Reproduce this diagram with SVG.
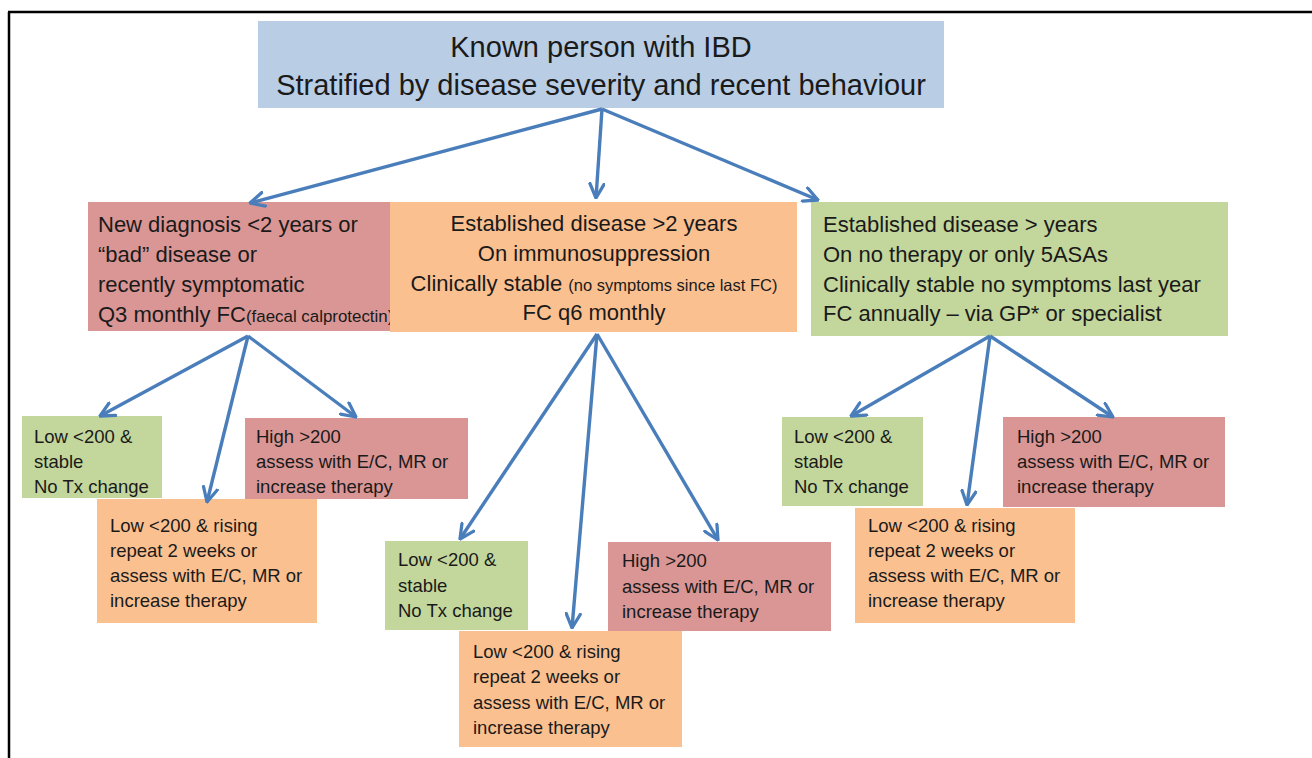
<svg xmlns="http://www.w3.org/2000/svg" width="1312" height="758" viewBox="0 0 1312 758">
<style>
.blue{fill:#b9cde5}
.red{fill:#d99694}
.orange{fill:#fac090}
.green{fill:#c3d69b}
text{font-family:"Liberation Sans",Arial,sans-serif;fill:#1a1a1a}
.t0{font-size:29px}
.t1{font-size:22px}
.s1{font-size:16.5px}
.t2{font-size:18.5px}
.conn line{stroke:#4a7ebb;stroke-width:3.4;marker-end:url(#ah)}
</style>
<defs>
<marker id="ah" viewBox="0 0 12 12" refX="11" refY="6" markerWidth="17" markerHeight="17" markerUnits="userSpaceOnUse" orient="auto">
<path d="M1,1 L11,6 L1,11" fill="none" stroke="#4a7ebb" stroke-width="2.3" stroke-linecap="round" stroke-linejoin="round"/>
</marker>
</defs>
<rect width="1312" height="758" fill="#fff"/>
<g id="frame" stroke="#000" stroke-width="2.5" fill="none">
<line x1="8" y1="12" x2="1312" y2="12"/>
<line x1="9" y1="12" x2="9" y2="758"/>
</g>

<g id="top">
<rect class="blue" x="258" y="21" width="686" height="87"/>
<text class="t0" x="601" y="57" text-anchor="middle">Known person with IBD</text>
<text class="t0" x="601" y="95" text-anchor="middle">Stratified by disease severity and recent behaviour</text>
</g>

<g id="new-diagnosis">
<rect class="red" x="88" y="202" width="302" height="129"/>
<text class="t1" x="98" y="232">New diagnosis &lt;2 years or</text>
<text class="t1" x="98" y="262">“bad” disease or</text>
<text class="t1" x="98" y="292">recently symptomatic</text>
<text class="t1" x="98" y="322">Q3 monthly FC<tspan font-size="16.9px">(faecal calprotectin)</tspan></text>
</g>

<g id="immunosuppression">
<rect class="orange" x="390" y="202" width="407" height="130"/>
<text class="t1" x="594" y="231" text-anchor="middle">Established disease &gt;2 years</text>
<text class="t1" x="594" y="261" text-anchor="middle">On immunosuppression</text>
<text class="t1" x="594" y="291" text-anchor="middle">Clinically stable <tspan class="s1">(no symptoms since last FC)</tspan></text>
<text class="t1" x="594" y="320" text-anchor="middle">FC q6 monthly</text>
</g>

<g id="no-therapy">
<rect class="green" x="811" y="202" width="417" height="134"/>
<text class="t1" x="823" y="232">Established disease &gt; years</text>
<text class="t1" x="823" y="262">On no therapy or only 5ASAs</text>
<text class="t1" x="823" y="292">Clinically stable no symptoms last year</text>
<text class="t1" x="823" y="321">FC annually – via GP* or specialist</text>
</g>

<g id="l-low-stable">
<rect class="green" x="22" y="416" width="140" height="82"/>
<text class="t2" x="34" y="443">Low &lt;200 &amp;</text>
<text class="t2" x="34" y="468">stable</text>
<text class="t2" x="34" y="493">No Tx change</text>
</g>
<g id="l-high">
<rect class="red" x="245" y="418" width="223" height="81"/>
<text class="t2" x="256" y="443">High &gt;200</text>
<text class="t2" x="256" y="468">assess with E/C, MR or</text>
<text class="t2" x="256" y="493">increase therapy</text>
</g>
<g id="l-low-rising">
<rect class="orange" x="97" y="499" width="220" height="124"/>
<text class="t2" x="110" y="532">Low &lt;200 &amp; rising</text>
<text class="t2" x="110" y="557">repeat 2 weeks or</text>
<text class="t2" x="110" y="582">assess with E/C, MR or</text>
<text class="t2" x="110" y="607">increase therapy</text>
</g>

<g id="m-low-stable">
<rect class="green" x="385" y="541" width="143" height="89"/>
<text class="t2" x="398" y="566">Low &lt;200 &amp;</text>
<text class="t2" x="398" y="592">stable</text>
<text class="t2" x="398" y="617">No Tx change</text>
</g>
<g id="m-high">
<rect class="red" x="608" y="542" width="223" height="89"/>
<text class="t2" x="622" y="567">High &gt;200</text>
<text class="t2" x="622" y="593">assess with E/C, MR or</text>
<text class="t2" x="622" y="618">increase therapy</text>
</g>
<g id="m-low-rising">
<rect class="orange" x="459" y="631" width="223" height="116"/>
<text class="t2" x="473" y="658">Low &lt;200 &amp; rising</text>
<text class="t2" x="473" y="683">repeat 2 weeks or</text>
<text class="t2" x="473" y="709">assess with E/C, MR or</text>
<text class="t2" x="473" y="734">increase therapy</text>
</g>

<g id="r-low-stable">
<rect class="green" x="782" y="417" width="141" height="89"/>
<text class="t2" x="794" y="443">Low &lt;200 &amp;</text>
<text class="t2" x="794" y="468">stable</text>
<text class="t2" x="794" y="493">No Tx change</text>
</g>
<g id="r-high">
<rect class="red" x="1003" y="417" width="222" height="90"/>
<text class="t2" x="1017" y="443">High &gt;200</text>
<text class="t2" x="1017" y="468">assess with E/C, MR or</text>
<text class="t2" x="1017" y="493">increase therapy</text>
</g>
<g id="r-low-rising">
<rect class="orange" x="855" y="508" width="220" height="115"/>
<text class="t2" x="868" y="532">Low &lt;200 &amp; rising</text>
<text class="t2" x="868" y="557">repeat 2 weeks or</text>
<text class="t2" x="868" y="582">assess with E/C, MR or</text>
<text class="t2" x="868" y="607">increase therapy</text>
</g>

<g id="connectors" class="conn">
<line x1="602" y1="109" x2="250" y2="203"/>
<line x1="602" y1="109" x2="596" y2="198"/>
<line x1="602" y1="109" x2="818" y2="200"/>
<line x1="248" y1="336" x2="100" y2="416"/>
<line x1="248" y1="336" x2="207" y2="502"/>
<line x1="248" y1="336" x2="356" y2="417"/>
<line x1="597" y1="334" x2="460" y2="539"/>
<line x1="597" y1="334" x2="572" y2="628"/>
<line x1="597" y1="334" x2="718" y2="540"/>
<line x1="990" y1="336" x2="851" y2="416"/>
<line x1="990" y1="336" x2="967" y2="505"/>
<line x1="990" y1="336" x2="1113" y2="417"/>
</g>
</svg>
